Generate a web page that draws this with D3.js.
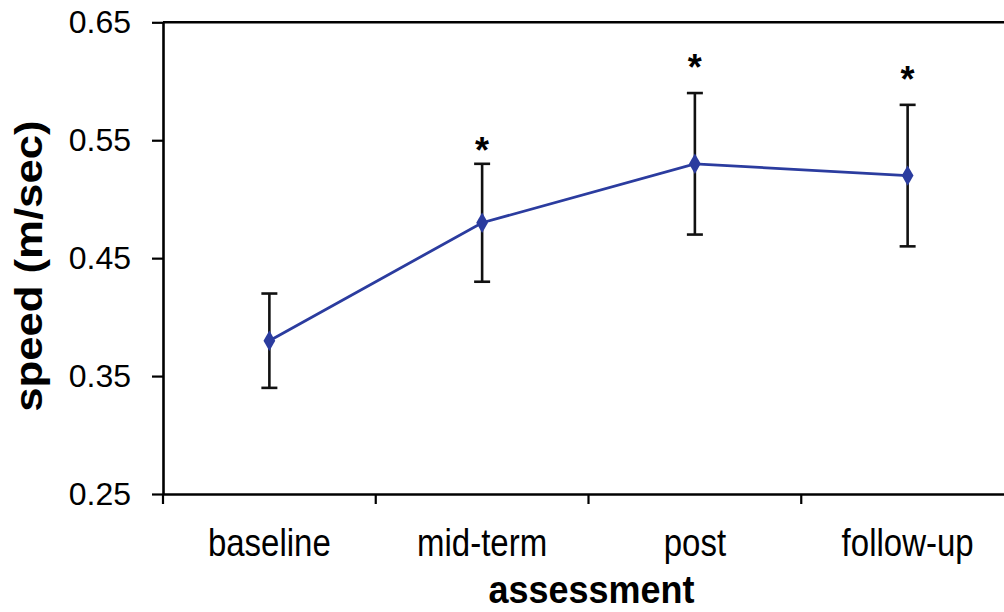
<!DOCTYPE html>
<html>
<head>
<meta charset="utf-8">
<script src="https://cdn.jsdelivr.net/npm/d3@7"></script>
<style>
  html, body { margin: 0; padding: 0; background: #ffffff; }
  svg { display: block; font-family: "Liberation Sans", Arial, sans-serif; }
</style>
</head>
<body>
<svg id="chart" width="1004" height="612"></svg>
<script>
const categories = ["baseline", "mid-term", "post", "follow-up"];
const means = [0.38, 0.48, 0.53, 0.52];
const upper = [0.42, 0.53, 0.59, 0.58];
const lower = [0.34, 0.43, 0.47, 0.46];
const starLevels = [null, 0.548, 0.618, 0.608];
const yTicks = [0.25, 0.35, 0.45, 0.55, 0.65];
const yTitle = "speed (m/sec)";
const xTitle = "assessment";

(function () {
const svg = d3.select("#chart");
const pLeft = 163, pRight = 1014, pTop = 22.3, pBottom = 494;

const x = d3.scaleBand().domain(categories).range([pLeft, pRight]).padding(0);
const y = d3.scaleLinear().domain([0.25, 0.65]).range([pBottom, pTop]);
const cx = c => x(c) + x.bandwidth() / 2;

const data = categories.map((c, i) => ({ c, m: means[i], hi: upper[i], lo: lower[i], star: starLevels[i] }));

// top frame line
svg.append("line")
  .attr("x1", pLeft).attr("x2", pRight)
  .attr("y1", y(0.65)).attr("y2", y(0.65))
  .attr("stroke", "#000").attr("stroke-width", 2.6);

// y axis
const yAxis = svg.append("g")
  .attr("transform", `translate(${pLeft},0)`)
  .call(d3.axisLeft(y).tickValues(yTicks).tickFormat(d3.format(".2f")).tickSize(11).tickSizeOuter(0).tickPadding(21));
yAxis.select(".domain").attr("stroke", "#000").attr("stroke-width", 2.6);
yAxis.selectAll(".tick line").attr("stroke", "#000").attr("stroke-width", 2.2);
yAxis.selectAll(".tick text").attr("fill", "#000").attr("font-size", 32).attr("font-family", "Liberation Sans, Arial, sans-serif");

// x axis
const xAxis = svg.append("g")
  .attr("transform", `translate(0,${pBottom})`)
  .call(d3.axisBottom(x).tickSize(0).tickSizeOuter(0).tickPadding(29));
xAxis.select(".domain").attr("stroke", "#000").attr("stroke-width", 2.6);
xAxis.selectAll(".tick text")
  .attr("fill", "#000").attr("font-size", 33)
  .attr("font-family", "Liberation Sans, Arial, sans-serif")
  .attr("dy", 0).attr("y", 0)
  .attr("transform", "translate(0,62) scale(1,1.18)");

// category boundary ticks
const bounds = categories.map(c => x(c)).concat([x.range()[1]]);
svg.append("g").selectAll("line").data(bounds).join("line")
  .attr("x1", d => d).attr("x2", d => d)
  .attr("y1", pBottom).attr("y2", pBottom + 10)
  .attr("stroke", "#000").attr("stroke-width", 2.2);

// error bars
const eb = svg.append("g").selectAll("g").data(data).join("g");
eb.append("line")
  .attr("x1", d => cx(d.c)).attr("x2", d => cx(d.c))
  .attr("y1", d => y(d.hi)).attr("y2", d => y(d.lo))
  .attr("stroke", "#111").attr("stroke-width", 2.6);
eb.append("line")
  .attr("x1", d => cx(d.c) - 8).attr("x2", d => cx(d.c) + 8)
  .attr("y1", d => y(d.hi)).attr("y2", d => y(d.hi))
  .attr("stroke", "#111").attr("stroke-width", 2.6);
eb.append("line")
  .attr("x1", d => cx(d.c) - 8).attr("x2", d => cx(d.c) + 8)
  .attr("y1", d => y(d.lo)).attr("y2", d => y(d.lo))
  .attr("stroke", "#111").attr("stroke-width", 2.6);

// mean line
const blue = "#2b3c9f";
svg.append("path")
  .datum(data)
  .attr("fill", "none")
  .attr("stroke", blue)
  .attr("stroke-width", 2.8)
  .attr("d", d3.line().x(d => cx(d.c)).y(d => y(d.m)));

svg.append("g").selectAll("path").data(data).join("path")
  .attr("transform", d => `translate(${cx(d.c)},${y(d.m)})`)
  .attr("d", d3.symbol().type(d3.symbolDiamond).size(120))
  .attr("fill", blue);

// significance stars
svg.append("g").selectAll("text").data(data.filter(d => d.star != null)).join("text")
  .attr("x", d => cx(d.c))
  .attr("y", d => y(d.star) + 20)
  .attr("text-anchor", "middle")
  .attr("font-size", 36)
  .attr("font-weight", "bold")
  .attr("fill", "#000")
  .text("*");

// axis titles
svg.append("text")
  .attr("transform", `translate(42,${(pTop + pBottom) / 2 + 8}) scale(1,1.15) rotate(-90)`)
  .attr("text-anchor", "middle")
  .attr("font-size", 38)
  .attr("font-weight", "bold")
  .attr("fill", "#000")
  .text(yTitle);

svg.append("text")
  .attr("transform", `translate(${(pLeft + pRight) / 2 + 3},603) scale(1,1.1)`)
  .attr("text-anchor", "middle")
  .attr("font-size", 36)
  .attr("font-weight", "bold")
  .attr("fill", "#000")
  .text(xTitle);
})();
</script>
</body>
</html>
